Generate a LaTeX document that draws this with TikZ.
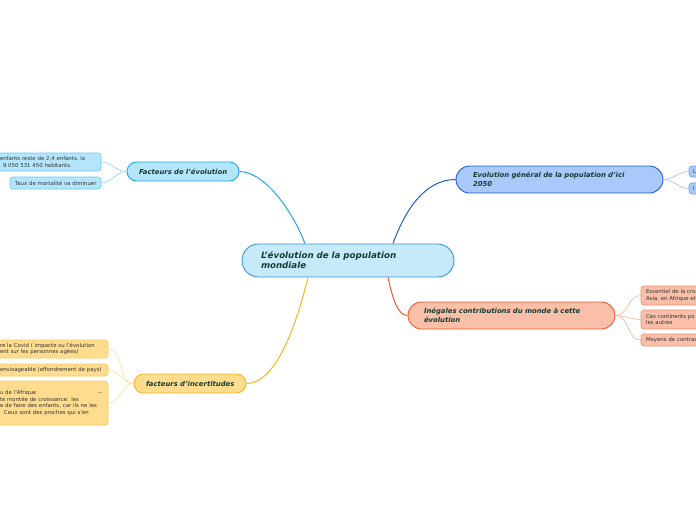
\documentclass[tikz,border=0pt]{standalone}
\usepackage{fontspec}
\setmainfont{DejaVu Sans}
\usetikzlibrary{calc}
\hyphenpenalty=10000 \exhyphenpenalty=10000
\definecolor{txtmain}{HTML}{143C32}
\definecolor{txtchild}{HTML}{333333}
\definecolor{cFill}{HTML}{C7EAFB}\definecolor{cLine}{HTML}{3A93D6}
\definecolor{fFill}{HTML}{B5E5FB}\definecolor{fLine}{HTML}{22A6EA}\definecolor{fSub}{HTML}{6CC8F2}\definecolor{fCon}{HTML}{92D5F4}
\definecolor{eFill}{HTML}{A9C9FB}\definecolor{eLine}{HTML}{1E5FD0}\definecolor{eSub}{HTML}{6E9DE8}\definecolor{eCon}{HTML}{9DBBEE}
\definecolor{iFill}{HTML}{F9BFA9}\definecolor{iLine}{HTML}{EC5A2C}\definecolor{iSub}{HTML}{F28E6E}\definecolor{iCon}{HTML}{F8B39A}
\definecolor{uFill}{HTML}{FFDC8E}\definecolor{uLine}{HTML}{F8B520}\definecolor{uSub}{HTML}{FCC95A}\definecolor{uCon}{HTML}{FDE0A0}
\tikzset{
  central/.style={draw=cLine,fill=cFill,line width=0.9pt,rounded corners=16.5pt,minimum width=212pt,minimum height=33pt,
    inner xsep=19pt,text width=174pt,align=left,text=txtmain,font=\fontsize{8.7}{10}\selectfont\bfseries\itshape},
  topic/.style={line width=0.9pt,align=left,text=txtmain,font=\fontsize{6.85}{9}\selectfont\bfseries\itshape},
  sub/.style={line width=0.6pt,rounded corners=3pt,align=left,text=txtchild,font=\fontsize{5.4}{6.6}\selectfont,inner ysep=0pt},
  conn/.style={line width=1pt},
  subconn/.style={line width=0.6pt},
}
\begin{document}
\begin{tikzpicture}[x=1pt,y=-1pt]
\useasboundingbox (0,0) rectangle (696,520);
% central
\node[central] (c) at (348,260.5) {\mbox{L'évolution de la population}\\mondiale};
% topics
\node[topic,draw=fLine,fill=fFill,rounded corners=9.5pt,minimum width=112pt,minimum height=19pt,inner xsep=12pt,text width=88pt] (F) at (183,171.5) {\mbox{Facteurs de l'évolution}};
\node[topic,draw=eLine,fill=eFill,rounded corners=13.5pt,minimum width=207pt,minimum height=27pt,inner xsep=17pt,text width=173pt] (E) at (559.5,179.5) {\mbox{Evolution général de la population d'ici}\\2050};
\node[topic,draw=iLine,fill=iFill,rounded corners=13.5pt,minimum width=207pt,minimum height=27pt,inner xsep=16pt,text width=175pt] (I) at (511.5,315.5) {\mbox{Inégales contributions du monde à cette}\\évolution};
\node[topic,draw=uLine,fill=uFill,rounded corners=9.5pt,minimum width=112pt,minimum height=19pt,inner xsep=12pt,text width=88pt] (U) at (190,383.5) {\mbox{facteurs d'incertitudes}};
% main connectors
\draw[conn,fLine] ([xshift=-43pt]c.north) .. controls (290,205) and (262,171.5) .. (F.east);
\draw[conn,eLine] ([xshift=45pt]c.north) .. controls (405,210) and (425,179.5) .. (E.west);
\draw[conn,iLine] ([xshift=40pt]c.south) .. controls (393,300) and (398,315.5) .. (I.west);
\draw[conn,uLine] ([xshift=-40pt]c.south) .. controls (295,330) and (275,383.5) .. (U.east);
% Facteurs children
\node[sub,draw=fSub,fill=fFill,minimum width=107pt,minimum height=18pt,inner xsep=6pt,text width=95pt] (f1) at (47.5,162) {\mbox{enfants reste de 2,4 enfants, la}\\\hspace*{3pt}9 050 531 450 habitants.};
\node[sub,draw=fSub,fill=fFill,minimum width=91pt,minimum height=12pt,inner xsep=5pt,text width=81pt] (f2) at (55.5,183) {\mbox{Taux de mortalité va diminuer}};
\draw[subconn,fCon] (F.west) to[out=180,in=0] (f1.east);
\draw[subconn,fCon] (F.west) to[out=180,in=0] (f2.east);
% Evolution children
\node[sub,draw=eSub,fill=eFill,minimum width=71pt,minimum height=11pt,inner xsep=4pt,text width=63pt] (e1) at (724.5,171.5) {L};
\node[sub,draw=eSub,fill=eFill,minimum width=71pt,minimum height=11pt,inner xsep=4pt,text width=63pt] (e2) at (724.5,188.5) {l};
\draw[subconn,eCon] (E.east) to[out=0,in=180] (e1.west);
\draw[subconn,eCon] (E.east) to[out=0,in=180] (e2.west);
% Inegales children
\node[sub,draw=iSub,fill=iFill,minimum width=119pt,minimum height=19pt,inner xsep=5pt,text width=109pt] (i1) at (700.5,295.5) {Essentiel de la cro\\Asia, en Afrique et};
\node[sub,draw=iSub,fill=iFill,minimum width=119pt,minimum height=19pt,inner xsep=5pt,text width=109pt] (i2) at (700.5,319.5) {Ces continents po\\les autres};
\node[sub,draw=iSub,fill=iFill,minimum width=119pt,minimum height=12pt,inner xsep=5pt,text width=109pt] (i3) at (700.5,340) {Moyens de contrac};
\draw[subconn,iCon] (I.east) to[out=0,in=180] (i1.west);
\draw[subconn,iCon] (I.east) to[out=0,in=180] (i2.west);
\draw[subconn,iCon] (I.east) to[out=0,in=180] (i3.west);
% Incertitudes children
\node[sub,draw=uSub,fill=uFill,minimum width=114pt,minimum height=18pt,inner xsep=6pt,text width=102pt] (u1) at (51,349) {\mbox{re la Covid ( impacte su l'évolution}\\\mbox{ent sur les personnes agées)}};
\node[sub,draw=uSub,fill=uFill,minimum width=114pt,minimum height=12pt,inner xsep=6pt,text width=102pt] (u2) at (51,370) {\mbox{envisageable (effondrement de pays)}};
\node[sub,draw=uSub,fill=uFill,minimum width=114pt,minimum height=44pt,inner xsep=6pt,text width=102pt] (u3) at (51,403) {u de l'Afrique\hfill{-}{-}\hspace*{3pt}\\\mbox{te montée de croissance: les}\\\mbox{e de faire des enfants, car ils ne les}\\\hspace*{4pt}\mbox{Ceux sont des proches qui s'en}};
\draw[subconn,uCon] (U.west) to[out=180,in=0] (u1.east);
\draw[subconn,uCon] (U.west) to[out=180,in=0] (u2.east);
\draw[subconn,uCon] (U.west) to[out=180,in=0] (u3.east);
\end{tikzpicture}
\end{document}
